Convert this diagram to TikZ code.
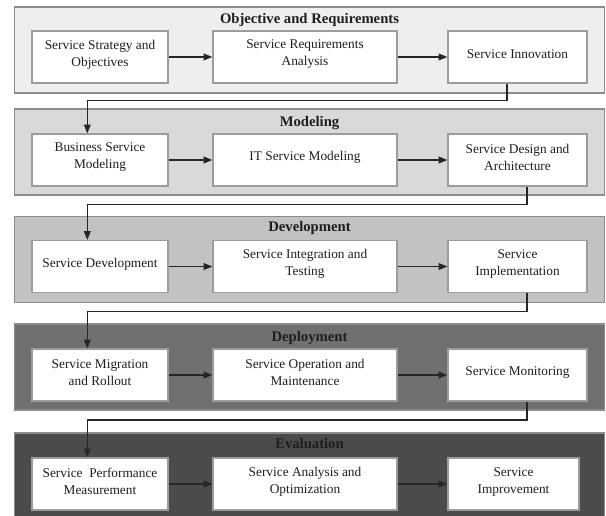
\documentclass[tikz,border=0pt]{standalone}
\usepackage{fontspec}
\setmainfont{Liberation Serif}
\usetikzlibrary{arrows.meta,calc}
\definecolor{pA}{HTML}{EEEEEE}
\definecolor{pB}{HTML}{D9D9D9}
\definecolor{pC}{HTML}{C2C2C2}
\definecolor{pD}{HTML}{707070}
\definecolor{pE}{HTML}{4B4B4B}
\definecolor{panelline}{HTML}{8C8C8C}
\definecolor{boxline}{HTML}{9C9C9C}
\definecolor{txt}{HTML}{1E1E1E}
\begin{document}
\begin{tikzpicture}[x=0.75pt,y=-0.75pt,
  panel/.style={draw=panelline,line width=1.1pt,rectangle,inner sep=0pt,minimum width=442.5pt},
  stepbox/.style={draw=boxline,fill=white,line width=0.9pt,rectangle,inner sep=0pt,minimum height=39pt},
  wA/.style={minimum width=102pt},
  wB/.style={minimum width=138pt},
  wC/.style={minimum width=104.25pt},
  boxtext/.style={align=center,font=\fontsize{10}{12.75}\selectfont,text=txt,inner sep=0pt},
  paneltitle/.style={font=\bfseries\fontsize{11}{13}\selectfont,text=txt,inner sep=0pt},
  flow/.style={-{Triangle[length=6.5pt,width=5pt]},line width=0.95pt,draw=black!85}]
\useasboundingbox (0,0) rectangle (606,515);
\clip (0,0) rectangle (606,515);
% panels
\node[panel,fill=pA,minimum height=64.5pt] (p1) at (309.5,50) {};
\node[panel,fill=pB,minimum height=64.5pt] (p2) at (309.5,152) {};
\node[panel,fill=pC,minimum height=64.5pt] (p3) at (309.5,259.5) {};
\node[panel,fill=pD,minimum height=64.5pt] (p4) at (309.5,367) {};
\node[panel,fill=pE,minimum height=67.5pt] (p5) at (309.5,478) {};
% titles
\node[paneltitle] (h1) at (309.5,19.5) {Objective and Requirements};
\node[paneltitle] (h2) at (309.5,123) {Modeling};
\node[paneltitle] (h3) at (309.5,228) {Development};
\node[paneltitle] (h4) at (309.5,338) {Deployment};
\node[paneltitle] (h5) at (309.5,443.5) {Evaluation};
% row 1
\node[stepbox,wA] (a1) at (100,57) {};
\node[stepbox,wB] (a2) at (305,57) {};
\node[stepbox,wC] (a3) at (517.5,57) {};
\node[boxtext] (ta1) at ($(a1)+(0,-2.5)$) {Service Strategy and\\Objectives};
\node[boxtext] (ta2) at ($(a2)+(0,-2.5)$) {Service Requirements\\Analysis};
\node[boxtext] (ta3) at ($(a3)+(0,-2.5)$) {Service Innovation};
% row 2
\node[stepbox,wA] (b1) at (100,160) {};
\node[stepbox,wB] (b2) at (305,160) {};
\node[stepbox,wC] (b3) at (517.5,160) {};
\node[boxtext] (tb1) at ($(b1)+(0,-2.5)$) {Business Service\\Modeling};
\node[boxtext] (tb2) at ($(b2)+(0,-2.5)$) {IT Service Modeling};
\node[boxtext] (tb3) at ($(b3)+(0,-2.5)$) {Service Design and\\Architecture};
% row 3
\node[stepbox,wA] (c1) at (100,266.5) {};
\node[stepbox,wB] (c2) at (305,266.5) {};
\node[stepbox,wC] (c3) at (517.5,266.5) {};
\node[boxtext] (tc1) at ($(c1)+(0,-2.5)$) {Service Development};
\node[boxtext] (tc2) at ($(c2)+(0,-2.5)$) {Service Integration and\\Testing};
\node[boxtext] (tc3) at ($(c3)+(0,-2.5)$) {Service\\Implementation};
% row 4
\node[stepbox,wA] (d1) at (100,375) {};
\node[stepbox,wB] (d2) at (305,375) {};
\node[stepbox,wC] (d3) at (517.5,375) {};
\node[boxtext] (td1) at ($(d1)+(0,-2.5)$) {Service Migration\\and Rollout};
\node[boxtext] (td2) at ($(d2)+(0,-2.5)$) {Service Operation and\\Maintenance};
\node[boxtext] (td3) at ($(d3)+(0,-2.5)$) {Service Monitoring};
% row 5
\node[stepbox,wA] (e1) at (100,484) {};
\node[stepbox,wB] (e2) at (305,484) {};
\node[stepbox,minimum width=98.25pt] (e3) at (513.5,484) {};
\node[boxtext] (te1) at ($(e1)+(0,-2.5)$) {Service\ \ Performance\\Measurement};
\node[boxtext] (te2) at ($(e2)+(0,-2.5)$) {Service Analysis and\\Optimization};
\node[boxtext] (te3) at ($(e3)+(0,-2.5)$) {Service\\Improvement};
% horizontal arrows
\foreach \r in {a,b,c,d,e}{
  \draw[flow] (\r1.east) -- (\r2.west);
  \draw[flow] (\r2.east) -- (\r3.west);
}
% connectors between panels
\draw[flow] ($(a3.south)+(-10.5,0)$) -- ++(0,17) -| ($(b1.north)+(-12.7,0)$);
\draw[flow] ($(b3.south)+(9.5,0)$) -- ++(0,18) -| ($(c1.north)+(-12.7,0)$);
\draw[flow] ($(c3.south)+(9.5,0)$) -- ++(0,18.5) -| ($(d1.north)+(-12.7,0)$);
\draw[flow] ($(d3.south)+(9.5,0)$) -- ++(0,18.5) -| ($(e1.north)+(-12.7,0)$);
\end{tikzpicture}
\end{document}
